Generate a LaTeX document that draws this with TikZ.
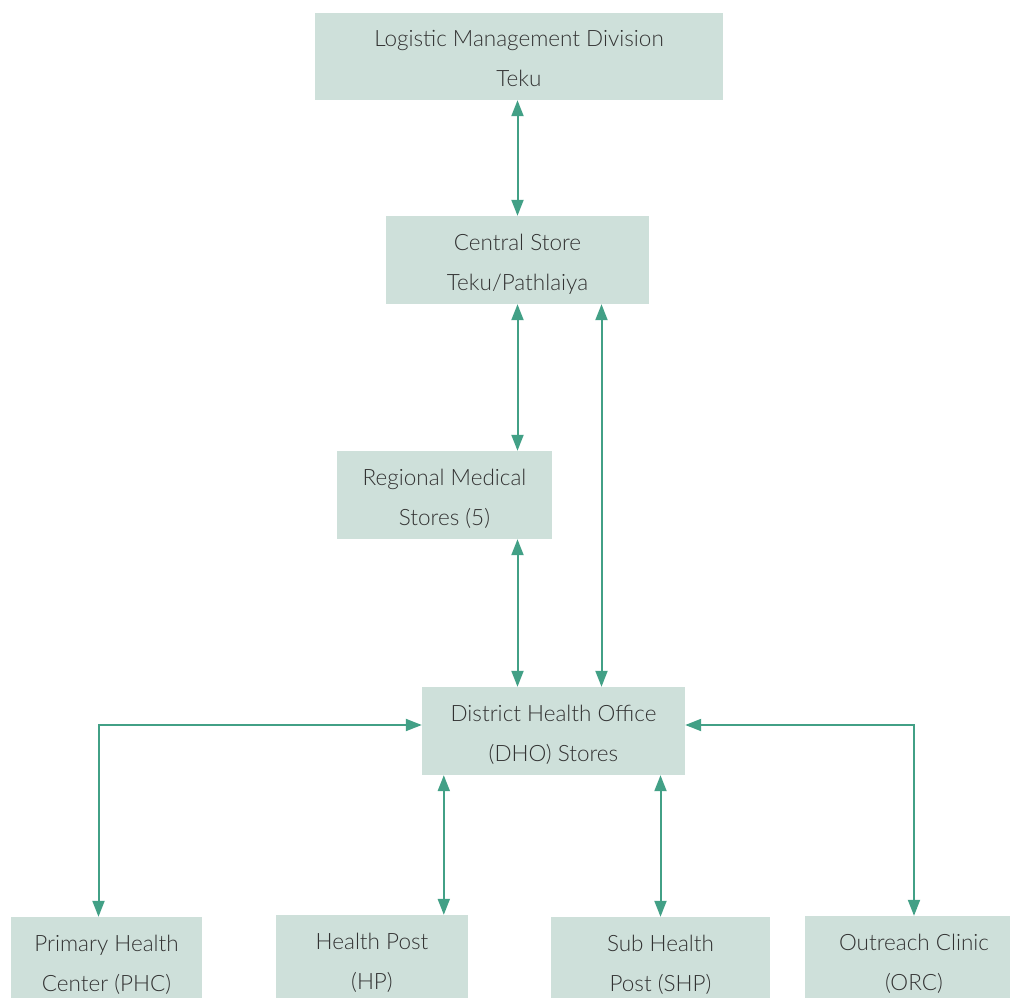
\documentclass[tikz,border=0pt]{standalone}
\usepackage{fontspec}
\setmainfont{Lato Light}
\usetikzlibrary{arrows.meta,calc}
\definecolor{boxgreen}{RGB}{206,224,218}
\definecolor{linkgreen}{RGB}{66,160,134}
\definecolor{textgrey}{RGB}{50,50,50}

\begin{document}
\begin{tikzpicture}[x=1pt,y=-1pt,
  box/.style={fill=boxgreen,text=textgrey,align=center,inner sep=0pt,text height=71pt,text depth=10pt,font=\fontsize{22.5}{40}\selectfont},
  link/.style={linkgreen,line width=2pt,{Triangle[length=16pt,width=12pt]}-{Triangle[length=16pt,width=12pt]}}]
\useasboundingbox (0,0) rectangle (1010,998);
\clip (0,0) rectangle (1010,998);
\node[box,minimum width=408pt,minimum height=87pt] (lmd) at (519,56.5) {Logistic Management Division\\Teku};
\node[box,minimum width=263pt,minimum height=88pt] (cs) at (517.5,260) {Central Store\\Teku/Pathlaiya};
\node[box,minimum width=215pt,minimum height=88pt] (rms) at (444.5,495) {Regional Medical\\Stores (5)};
\node[box,minimum width=263pt,minimum height=88pt] (dho) at (553.5,731) {District Health Office\\(DHO) Stores};
\node[box,minimum width=191pt,minimum height=88pt] (phc) at (106.5,961) {Primary Health\\Center (PHC)};
\node[box,minimum width=192pt,minimum height=88pt] (hp) at (372,959) {Health Post\\(HP)};
\node[box,minimum width=219pt,minimum height=88pt] (shp) at (660.5,961) {Sub Health\\Post (SHP)};
\node[box,minimum width=218pt,minimum height=88pt] (orc) at (914,960) {Outreach Clinic\\(ORC)};

\draw[link] (lmd.south -| cs.north) -- (cs.north);
\draw[link] (cs.south) -- (cs.south |- rms.north);
\coordinate (csright) at ($(cs.south)+(84,0)$);
\draw[link] (csright) -- (csright |- dho.north);
\draw[link] (cs.south |- rms.south) -- (cs.south |- dho.north);

\coordinate (dholeft) at ($(dho.west)+(0,-6)$);
\coordinate (phctop) at ($(phc.north)+(-8,0)$);
\draw[link] (dholeft) -| (phctop);
\draw[link] (dho.east |- dholeft) -| (orc.north);
\coordinate (hptop) at ($(dho.south west)+(22,0)$);
\draw[link] (hptop) -- (hptop |- hp.north);
\draw[link] (dho.south -| shp.north) -- (shp.north);
\end{tikzpicture}
\end{document}
